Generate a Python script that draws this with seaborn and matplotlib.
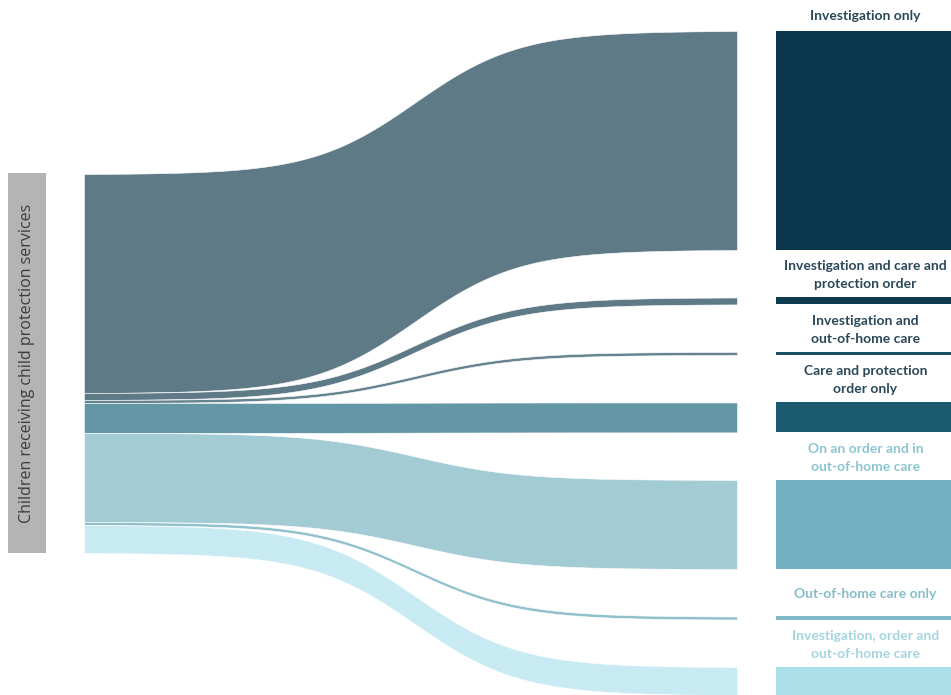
# Sankey: children receiving child protection services, by service type
import numpy as np
import seaborn as sns
import matplotlib.pyplot as plt

# Dados (estimados a partir da figura)
categorias = [
    "Investigation only",
    "Investigation and care and\nprotection order",
    "Investigation and\nout-of-home care",
    "Care and protection\norder only",
    "On an order and in\nout-of-home care",
    "Out-of-home care only",
    "Investigation, order and\nout-of-home care",
]
criancas = [101000, 3200, 1400, 13800, 41100, 1400, 12900]
origem = "Children receiving child protection services"

cor_fluxo = ["#5f7a87", "#5f7a87", "#66838f", "#6497a5", "#a3cbd4", "#8fc0cc", "#c8eaf2"]
cor_no = ["#0b374c", "#0d3a4f", "#1d4f63", "#1b5a6f", "#72b0bf", "#7fb9c7", "#abe0ea"]
cor_texto = ["#2a4859", "#2a4859", "#2a4859", "#2a4859", "#8cc5d2", "#84bccb", "#a5d5df"]

sns.set_theme(style="white")
plt.rcParams["font.family"] = ["Lato", "DejaVu Sans"]

fig = plt.figure(figsize=(9.51, 6.95), dpi=100)
ax = fig.add_axes([0, 0, 1, 1])
ax.set_xlim(0, 951)
ax.set_ylim(695, 0)
ax.axis("off")

# Layout
escala = 379 / sum(criancas)
x_esq, x_dir = 84, 737
topo_esq, topo_dir, espaco = 174, 31, 47.5
no_x0, no_x1 = 776, 951

alturas = [v * escala for v in criancas]
y_esq = topo_esq + np.concatenate([[0], np.cumsum(alturas)[:-1]])
y_dir = topo_dir + np.concatenate([[0], np.cumsum(alturas)[:-1]]) + espaco * np.arange(len(alturas))

# curva sigmoide (logística) entre os nós
xs = np.linspace(x_esq, x_dir, 400)
sig = lambda x: 1 / (1 + np.exp(-(x - 415) / 52))
s = (sig(xs) - sig(x_esq)) / (sig(x_dir) - sig(x_esq))

for i, h in enumerate(alturas):
    topo = y_esq[i] + (y_dir[i] - y_esq[i]) * s
    ax.fill_between(xs, topo, topo + h, color=cor_fluxo[i], lw=0.4, edgecolor="white")
    ax.fill_between([no_x0, no_x1], y_dir[i], y_dir[i] + h, color=cor_no[i], lw=0)
    y_lab = (y_dir[i - 1] + alturas[i - 1] + y_dir[i]) / 2 + 1.5 if i > 0 else y_dir[i] / 2
    ax.text((no_x0 + no_x1) / 2 + 2, y_lab, categorias[i], ha="center", va="center",
            fontsize=10, fontweight="bold", color=cor_texto[i], linespacing=1.6)

# Nó de origem
total = sum(alturas)
ax.fill_between([8, 46], topo_esq - 1, topo_esq + total, color="#b4b4b4", lw=0)
ax.text(27, topo_esq + total / 2, origem, rotation=90, ha="center", va="center",
        fontsize=11.5, color="#3c3c3c", family=["Open Sans", "DejaVu Sans"])

plt.savefig("out.png", dpi=100)
